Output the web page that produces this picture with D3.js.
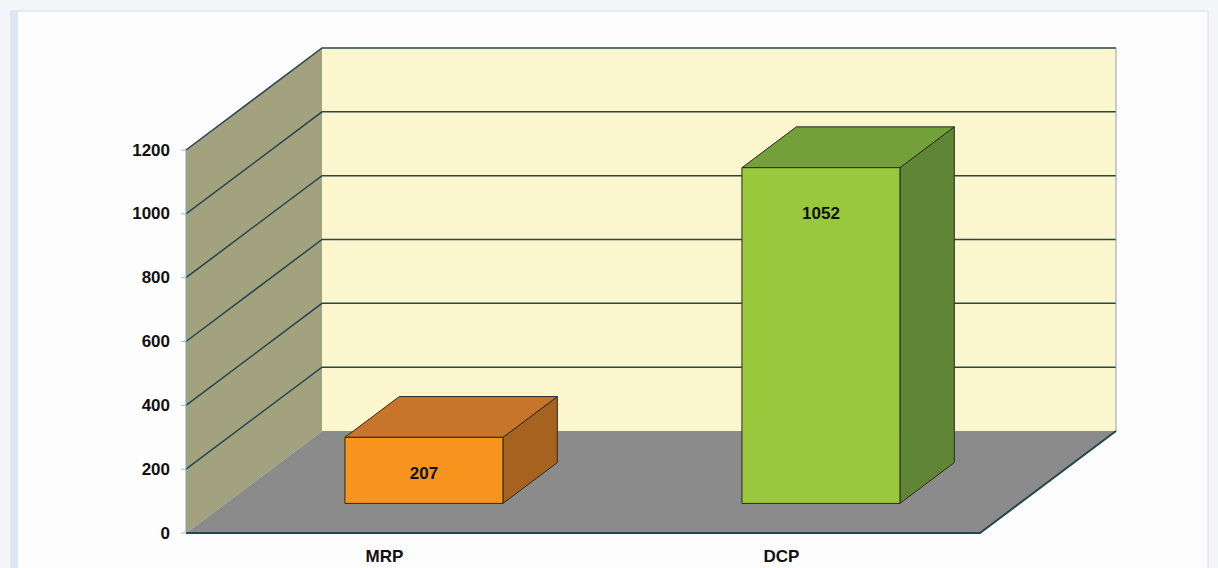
<!DOCTYPE html>
<html>
<head>
<meta charset="utf-8">
<script src="https://cdn.jsdelivr.net/npm/d3@7"></script>
<style>
  body { margin: 0; background: #f3f5f9; }
  svg { display: block; font-family: Arial, "Liberation Sans", sans-serif; }
</style>
</head>
<body>
<div id="chart"></div>
<script>
// chart data
var categories = ["MRP", "DCP"];
var values = [207, 1052];
var tickValues = [0, 200, 400, 600, 800, 1000, 1200];

// face colours per bar: front, top, side
var frontColors = ["#f7941e", "#9ac83c"];
var topColors = ["#c9742b", "#74a03c"];
var sideColors = ["#a7621f", "#5f8535"];

var width = 1218, height = 568;

var svg = d3.select("#chart").append("svg")
    .attr("width", width)
    .attr("height", height);

// page panel
svg.append("rect")
    .attr("x", 0).attr("y", 0).attr("width", width).attr("height", height)
    .attr("fill", "#f3f5f9");
svg.append("rect")
    .attr("x", 12).attr("y", 11).attr("width", 1196).attr("height", 560)
    .attr("fill", "#fdfdfe")
    .attr("stroke", "#dfe7f2").attr("stroke-width", 1.5);
svg.append("rect")
    .attr("x", 10).attr("y", 11).attr("width", 8).attr("height", 560)
    .attr("fill", "#dde6f3");

// scales (front plane)
var x = d3.scaleBand()
    .domain(categories)
    .range([186, 980])
    .paddingInner(0.602)
    .paddingOuter(0.301);

var y = d3.scaleLinear()
    .domain([0, 1200])
    .range([533, 150]);

// depth of the 3d box
var DX = 136, DY = -102;
var z0 = 0.29, z1 = 0.69;   // bar front / back depth fraction

var x0 = x.range()[0], x1 = x.range()[1];
var lineColor = "#24464e";

// back wall
svg.append("polygon")
    .attr("points", [[x0 + DX, y(1200) + DY], [x1 + DX, y(1200) + DY],
                     [x1 + DX, y(0) + DY], [x0 + DX, y(0) + DY]].join(" "))
    .attr("fill", "#fcf6cf");

// side wall
svg.append("polygon")
    .attr("points", [[x0, y(0)], [x0, y(1200)], [x0 + DX, y(1200) + DY], [x0 + DX, y(0) + DY]].join(" "))
    .attr("fill", "#a3a27f");

// gridlines on side wall and back wall
tickValues.forEach(function(v) {
  if (v === 0) return;
  svg.append("path")
      .attr("d", "M" + x0 + "," + y(v) + "L" + (x0 + DX) + "," + (y(v) + DY) + "L" + (x1 + DX) + "," + (y(v) + DY))
      .attr("fill", "none")
      .attr("stroke", lineColor)
      .attr("stroke-width", 1.5);
});

// right edge of back wall
svg.append("line")
    .attr("x1", x1 + DX).attr("x2", x1 + DX)
    .attr("y1", y(1200) + DY).attr("y2", y(0) + DY)
    .attr("stroke", "#7fa7b3").attr("stroke-width", 1);

// floor
svg.append("polygon")
    .attr("points", [[x0, y(0)], [x1, y(0)], [x1 + DX, y(0) + DY], [x0 + DX, y(0) + DY]].join(" "))
    .attr("fill", "#8b8b8b");
svg.append("path")
    .attr("d", "M" + x0 + "," + y(0) + "L" + x1 + "," + y(0) + "L" + (x1 + DX) + "," + (y(0) + DY))
    .attr("fill", "none")
    .attr("stroke", lineColor)
    .attr("stroke-width", 2);

// side wall front edge
svg.append("line")
    .attr("x1", x0).attr("x2", x0)
    .attr("y1", y(0)).attr("y2", y(1200))
    .attr("stroke", "#7fa7b3").attr("stroke-width", 1);

// bars
var bw = x.bandwidth();
categories.forEach(function(c, i) {
  var fx = x(c) + z0 * DX;
  var fb = y(0) + z0 * DY;
  var ft = y(values[i]) + z0 * DY;
  var ddx = (z1 - z0) * DX, ddy = (z1 - z0) * DY;
  var g = svg.append("g")
      .attr("stroke", "#2b2b1f")
      .attr("stroke-width", 1)
      .attr("stroke-linejoin", "round");

  // side face
  g.append("polygon")
      .attr("points", [[fx + bw, fb], [fx + bw, ft], [fx + bw + ddx, ft + ddy], [fx + bw + ddx, fb + ddy]].join(" "))
      .attr("fill", sideColors[i]);
  // top face
  g.append("polygon")
      .attr("points", [[fx, ft], [fx + bw, ft], [fx + bw + ddx, ft + ddy], [fx + ddx, ft + ddy]].join(" "))
      .attr("fill", topColors[i]);
  // front face
  g.append("rect")
      .attr("x", fx).attr("y", ft)
      .attr("width", bw).attr("height", fb - ft)
      .attr("fill", frontColors[i]);

  // value label
  svg.append("text")
      .attr("x", fx + bw / 2)
      .attr("y", ft + Math.min((fb - ft) / 2 + 3, 46))
      .attr("text-anchor", "middle")
      .attr("dominant-baseline", "central")
      .attr("font-size", "17px")
      .attr("font-weight", "bold")
      .attr("fill", "#111")
      .text(values[i]);
});

// y axis labels
svg.selectAll(".ytick")
    .data(tickValues)
    .enter().append("text")
    .attr("class", "ytick")
    .attr("x", 170)
    .attr("y", function(d) { return y(d); })
    .attr("text-anchor", "end")
    .attr("dominant-baseline", "central")
    .attr("font-size", "17px")
    .attr("font-weight", "bold")
    .attr("fill", "#111")
    .text(function(d) { return d; });

// small tick marks
svg.selectAll(".ymark")
    .data(tickValues)
    .enter().append("line")
    .attr("class", "ymark")
    .attr("x1", 181).attr("x2", 186)
    .attr("y1", function(d) { return y(d); })
    .attr("y2", function(d) { return y(d); })
    .attr("stroke", "#9db8c8").attr("stroke-width", 1);

// category labels
svg.selectAll(".xlab")
    .data(categories)
    .enter().append("text")
    .attr("class", "xlab")
    .attr("x", function(d) { return x(d) + bw / 2; })
    .attr("y", 562)
    .attr("text-anchor", "middle")
    .attr("font-size", "17px")
    .attr("font-weight", "bold")
    .attr("fill", "#111")
    .text(function(d) { return d; });
</script>
</body>
</html>
